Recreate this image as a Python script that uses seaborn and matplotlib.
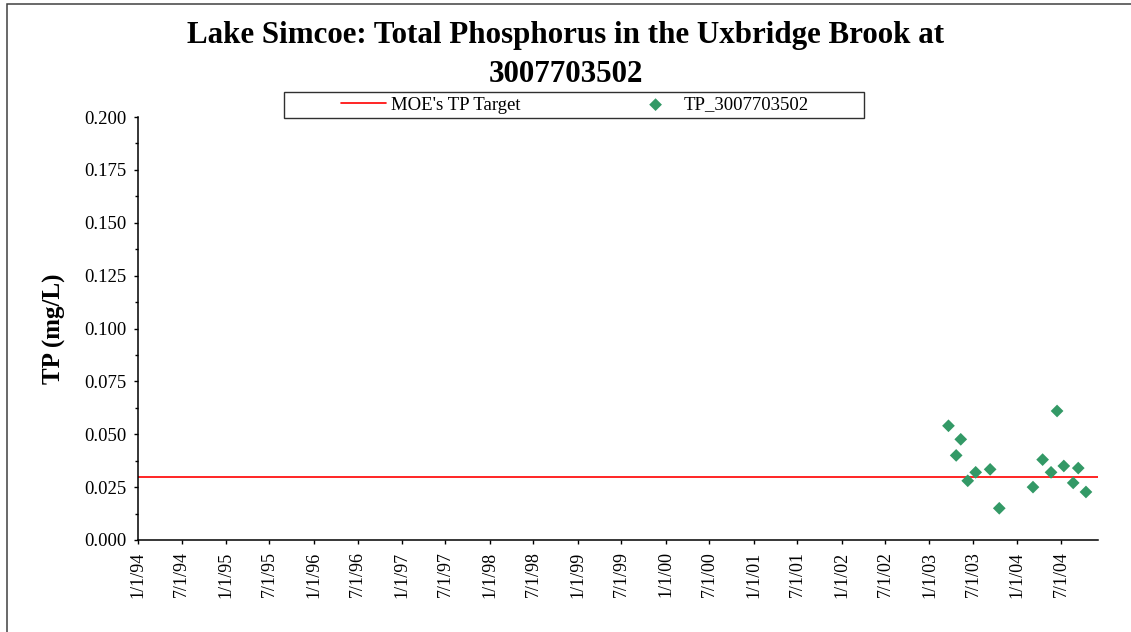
import pandas as pd
import seaborn as sns
import numpy as np
import matplotlib
matplotlib.use("Agg")
import matplotlib.pyplot as plt
from matplotlib.patches import Rectangle


# Données
sample_dates = ["2003-03-21", "2003-04-22", "2003-05-11", "2003-06-09", "2003-07-12",
                "2003-09-10", "2003-10-18", "2004-03-06", "2004-04-15", "2004-05-20",
                "2004-06-14", "2004-07-12", "2004-08-20", "2004-09-10", "2004-10-12"]
tp_values = [0.054, 0.040, 0.0476, 0.028, 0.032,
             0.0334, 0.015, 0.025, 0.038, 0.032,
             0.061, 0.035, 0.027, 0.034, 0.0227]
tp_target = 0.030
y_ticks = [0.000, 0.025, 0.050, 0.075, 0.100, 0.125, 0.150, 0.175, 0.200]
x_tick_dates = pd.date_range("1994-01-01", "2004-07-01", freq="6MS")

df = pd.DataFrame({"date": pd.to_datetime(sample_dates), "TP": tp_values})

sns.set_style("ticks")
plt.rcParams['font.family'] = ['Liberation Serif', 'DejaVu Serif']
for k in ['text.color', 'axes.labelcolor', 'xtick.color', 'ytick.color']:
    plt.rcParams[k] = 'black'

W, H = 1131, 632
fig = plt.figure(figsize=(W / 100, H / 100), dpi=100)
ax = fig.add_axes([138 / W, 92 / H, 960 / W, 423 / H])

# Bordure du graphique
fig.patches.append(Rectangle((7 / W, -0.05), 1.1, (628 / H) + 0.05, transform=fig.transFigure,
                             fill=False, edgecolor='#404040', linewidth=1.1))

ax.axhline(tp_target, color='red', linewidth=1.2, label="MOE's TP Target", zorder=2)
sns.scatterplot(data=df, x="date", y="TP", marker="D", s=42, color='#339966',
                edgecolor='none', label="TP_3007703502", ax=ax, zorder=3)

ax.set_xlim(pd.Timestamp("1994-01-01"), pd.Timestamp("2004-12-01"))
ax.set_ylim(0, 0.2)
ax.set_yticks(y_ticks)
ax.set_yticklabels([f"{v:.3f}" for v in y_ticks], fontsize=13.5)
ax.set_yticks(np.arange(0.0125, 0.2, 0.025), minor=True)
ax.set_xticks(x_tick_dates)
ax.set_xticklabels([f"{d.month}/{d.day}/{d.strftime('%y')}" for d in x_tick_dates],
                   rotation=90, fontsize=13)
ax.tick_params(axis='both', which='major', length=3.2, width=1, color='black', pad=5)
ax.tick_params(axis='y', which='minor', length=2, width=1, color='black')
ax.set_xlabel("")
ax.set_ylabel("TP (mg/L)", fontsize=18, fontweight='bold')
ax.yaxis.set_label_coords((66 - 138) / 960, 0.5)
sns.despine(ax=ax)
for s in ["left", "bottom"]:
    ax.spines[s].set_color('black')
    ax.spines[s].set_linewidth(1.1)

# Titre sur deux lignes
fig.text(0.5, 1 - 43.5 / H, "Lake Simcoe: Total Phosphorus in the Uxbridge Brook at",
         fontsize=22.3, fontweight='bold', ha='center', va='baseline')
fig.text(0.5, 1 - 82 / H, "3007703502",
         fontsize=22.3, fontweight='bold', ha='center', va='baseline')

# Légende
fig.patches.append(Rectangle((284 / W, 1 - 118 / H), 580 / W, 26 / H, transform=fig.transFigure,
                             fill=False, edgecolor='#303030', linewidth=1.0))
handles, labels = ax.get_legend_handles_labels()
ax.legend(handles, labels, ncol=2, fontsize=13.5, frameon=False,
          loc='center left', bbox_to_anchor=(341 / W, 1 - 105 / H),
          bbox_transform=fig.transFigure, borderpad=0, borderaxespad=0,
          handlelength=2.4, handletextpad=0.27, columnspacing=6.0)

fig.savefig("out.png", dpi=100)
